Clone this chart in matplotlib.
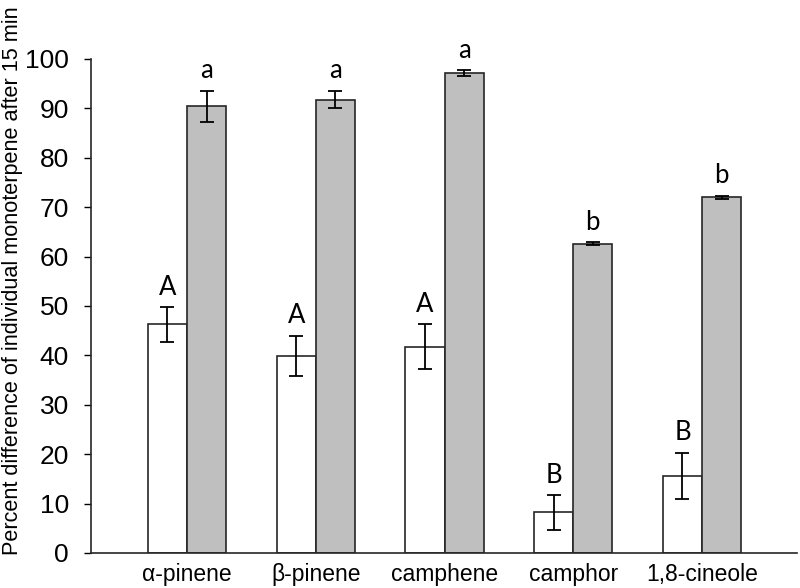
import matplotlib

matplotlib.use("Agg")

import matplotlib.pyplot as plt
import numpy as np

compounds = ["α-pinene", "β-pinene", "camphene", "camphor", "1,8-cineole"]

white_vals = [46.3, 39.9, 41.8, 8.2, 15.6]
white_err = [3.5, 4.1, 4.5, 3.5, 4.7]
white_letters = ["A", "A", "A", "B", "B"]

gray_vals = [90.4, 91.8, 97.2, 62.6, 72.0]
gray_err = [3.2, 1.8, 0.55, 0.35, 0.35]
gray_letters = ["a", "a", "a", "b", "b"]

yticks = list(range(0, 101, 10))


def main():
    fig = plt.figure(figsize=(8.0, 5.88), dpi=100)
    ax = fig.add_axes([91 / 800, 1 - 553 / 588, (797 - 91) / 800, (553 - 59) / 588])

    x = np.arange(len(compounds))
    width = 0.303
    err_kw = dict(ecolor="black", elinewidth=1.3, capsize=5, capthick=1.3)

    ax.bar(x - width / 2, white_vals, width, yerr=white_err, color="white",
           edgecolor="#262626", linewidth=1.2, error_kw=err_kw, zorder=2)
    ax.bar(x + width / 2, gray_vals, width, yerr=gray_err, color="#BFBFBF",
           edgecolor="#262626", linewidth=1.2, error_kw=err_kw, zorder=2)

    letter_font = dict(fontsize=18.5, family=["Lato", "DejaVu Sans"], ha="center", va="bottom")
    for xi, v, e, s in zip(x - width / 2, white_vals, white_err, white_letters):
        ax.text(xi, v + e + 1.5, s, **letter_font)
    for xi, v, e, s in zip(x + width / 2, gray_vals, gray_err, gray_letters):
        ax.text(xi, v + e + 1.5, s, **letter_font)

    ax.set_xlim((91 - 187) / 128.75, (797 - 187) / 128.75)
    ax.set_ylim(0, 100)
    ax.set_yticks(yticks)
    ax.set_yticklabels([str(t) for t in yticks], fontsize=19, family="Liberation Sans")
    ax.set_xticks(x)
    ax.set_xticklabels(compounds, fontsize=16.5, family="Liberation Sans")
    ax.tick_params(axis="x", length=0, pad=7)
    ax.tick_params(axis="y", length=5, width=1, direction="out", pad=11)
    ax.spines["top"].set_visible(False)
    ax.spines["right"].set_visible(False)
    for side in ("left", "bottom"):
        ax.spines[side].set_linewidth(1.2)
        ax.spines[side].set_color("#262626")

    fig.text(13 / 800, 1 - 281 / 588,
             "Percent difference of individual monoterpene after 15 min",
             rotation=90, ha="center", va="center",
             fontsize=15.6, family="Liberation Sans")

    fig.savefig("out.png", dpi=100)
    plt.close(fig)


if __name__ == "__main__":
    main()
